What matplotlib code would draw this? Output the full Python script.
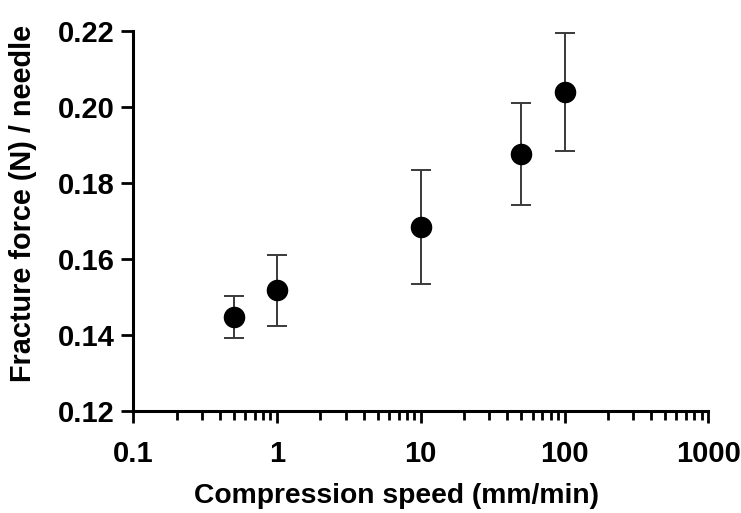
import matplotlib
matplotlib.use("Agg")
import matplotlib.pyplot as plt
import numpy as np
from matplotlib.ticker import LogLocator, FixedLocator, FixedFormatter, NullFormatter

speed = [0.5, 1, 10, 50, 100]
force = [0.1446, 0.1517, 0.1684, 0.1875, 0.2040]
err_low = [0.1391, 0.1424, 0.1534, 0.1742, 0.1885]
err_high = [0.1503, 0.1610, 0.1834, 0.2010, 0.2195]
xticks = [0.1, 1, 10, 100, 1000]
xticklabels = ["0.1", "1", "10", "100", "1000"]
yticks = [0.12, 0.14, 0.16, 0.18, 0.20, 0.22]
yticklabels = ["0.12", "0.14", "0.16", "0.18", "0.20", "0.22"]

plt.rcParams['font.family'] = ['Liberation Sans', 'DejaVu Sans']
plt.rcParams['font.weight'] = 'bold'

fig = plt.figure(figsize=(7.41, 5.13), dpi=100)
ax = fig.add_axes([133.3/741, 1-410.7/513, (708.3-133.3)/741, (410.7-31)/513])

f = np.array(force)
yerr = [f - np.array(err_low), np.array(err_high) - f]
ax.errorbar(speed, force, yerr=yerr, fmt='o', color='black', markersize=14.5,
            ecolor='#3a3a3a', elinewidth=1.4, capsize=7.5, capthick=1.4, zorder=3)

ax.set_xscale('log')
ax.set_xlim(0.1, 1000)
ax.set_ylim(0.12, 0.22)
ax.xaxis.set_major_locator(FixedLocator(xticks))
ax.xaxis.set_major_formatter(FixedFormatter(xticklabels))
ax.xaxis.set_minor_locator(LogLocator(base=10, subs=np.arange(2, 10), numticks=20))
ax.xaxis.set_minor_formatter(NullFormatter())
ax.yaxis.set_major_locator(FixedLocator(yticks))
ax.yaxis.set_major_formatter(FixedFormatter(yticklabels))

for s in ['top', 'right']:
    ax.spines[s].set_visible(False)
for s in ['left', 'bottom']:
    ax.spines[s].set_linewidth(2.2)
    ax.spines[s].set_color('black')

ax.tick_params(axis='both', which='major', length=8.5, width=2.0, labelsize=21, pad=5, color='black')
ax.tick_params(axis='x', which='minor', length=6.5, width=2.0, color='black')
ax.tick_params(axis='x', which='major', pad=12.5)

ax.set_xlabel('Compression speed (mm/min)', fontsize=20.3, fontweight='bold', labelpad=11)
ax.set_ylabel('Fracture force (N) / needle', fontsize=20.8, fontweight='bold', labelpad=15)
ax.xaxis.label.set_x(0.457)
ax.yaxis.label.set_y(0.547)

fig.savefig('out.png', dpi=100)
